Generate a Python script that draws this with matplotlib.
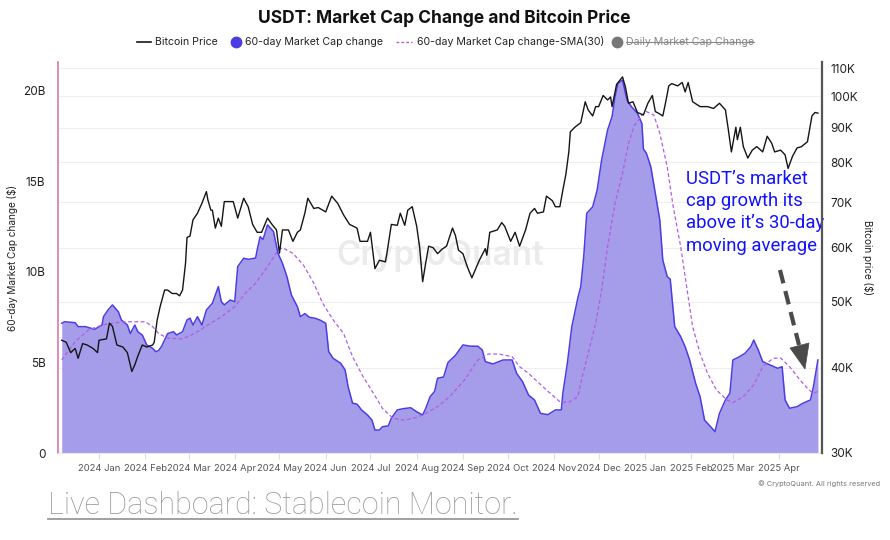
import matplotlib
matplotlib.use("Agg")
import matplotlib.pyplot as plt
import matplotlib.dates as mdates
import matplotlib.transforms as mtrans
from matplotlib.lines import Line2D
from matplotlib.patches import Polygon
from matplotlib.ticker import FixedLocator, NullLocator
import pandas as pd
from datetime import datetime

plt.rcParams['font.family'] = ['Inter', 'DejaVu Sans']

# ---------------- data ----------------
mc_dates = ["2023-12-07", "2023-12-09", "2023-12-16", "2023-12-18", "2023-12-23", "2023-12-29",
            "2024-01-03", "2024-01-04", "2024-01-07", "2024-01-10", "2024-01-14", "2024-01-16",
            "2024-01-20", "2024-01-22", "2024-01-25", "2024-01-27", "2024-01-30", "2024-02-02",
            "2024-02-06", "2024-02-08", "2024-02-10", "2024-02-12", "2024-02-16", "2024-02-20",
            "2024-02-22", "2024-02-26", "2024-02-29", "2024-03-02", "2024-03-04", "2024-03-07",
            "2024-03-10", "2024-03-13", "2024-03-17", "2024-03-21", "2024-03-23", "2024-03-25",
            "2024-03-29", "2024-04-01", "2024-04-03", "2024-04-07", "2024-04-10", "2024-04-15",
            "2024-04-16", "2024-04-18", "2024-04-20", "2024-04-23", "2024-04-27", "2024-04-30",
            "2024-05-03", "2024-05-06", "2024-05-09", "2024-05-13", "2024-05-15", "2024-05-18",
            "2024-05-21", "2024-05-25", "2024-05-28", "2024-06-01", "2024-06-03", "2024-06-06",
            "2024-06-11", "2024-06-14", "2024-06-16", "2024-06-19", "2024-06-22", "2024-06-25",
            "2024-06-29", "2024-07-02", "2024-07-04", "2024-07-07", "2024-07-09", "2024-07-13",
            "2024-07-15", "2024-07-19", "2024-07-23", "2024-07-28", "2024-08-01", "2024-08-05",
            "2024-08-07", "2024-08-10", "2024-08-13", "2024-08-15", "2024-08-19", "2024-08-22",
            "2024-08-27", "2024-09-01", "2024-09-06", "2024-09-11", "2024-09-14", "2024-09-16",
            "2024-09-21", "2024-09-28", "2024-10-04", "2024-10-07", "2024-10-11", "2024-10-15",
            "2024-10-19", "2024-10-23", "2024-10-28", "2024-11-02", "2024-11-06", "2024-11-07",
            "2024-11-10", "2024-11-13", "2024-11-17", "2024-11-19", "2024-11-21", "2024-11-23",
            "2024-11-27", "2024-11-30", "2024-12-03", "2024-12-07", "2024-12-10", "2024-12-12",
            "2024-12-14", "2024-12-17", "2024-12-20", "2024-12-23", "2024-12-27", "2024-12-30",
            "2024-12-31", "2025-01-02", "2025-01-05", "2025-01-08", "2025-01-11", "2025-01-13",
            "2025-01-16", "2025-01-18", "2025-01-21", "2025-01-25", "2025-01-28", "2025-01-31",
            "2025-02-04", "2025-02-07", "2025-02-10", "2025-02-14", "2025-02-17", "2025-02-20",
            "2025-02-24", "2025-02-27", "2025-03-01", "2025-03-05", "2025-03-09", "2025-03-13",
            "2025-03-15", "2025-03-18", "2025-03-21", "2025-03-26", "2025-03-31", "2025-04-03",
            "2025-04-05", "2025-04-08", "2025-04-13", "2025-04-17", "2025-04-22", "2025-04-24",
            "2025-04-27"]
mc_values = [7.17, 7.25, 7.20, 6.98, 6.98, 6.83,
             7.07, 7.53, 7.90, 8.18, 7.80, 7.35,
             7.07, 6.60, 7.07, 6.70, 6.52, 5.97,
             5.78, 5.60, 5.66, 5.90, 6.60, 6.70,
             6.52, 6.70, 7.35, 7.45, 7.07, 7.53,
             7.07, 7.90, 8.27, 9.19, 8.36, 8.18,
             8.45, 8.36, 10.30, 10.76, 10.70, 10.77,
             11.20, 11.95, 11.80, 12.60, 12.23, 11.03,
             10.48, 9.74, 8.73, 8.08, 7.53, 7.70,
             7.50, 7.44, 7.35, 7.17, 5.60, 5.23,
             4.96, 4.59, 3.66, 2.75, 2.70, 2.38,
             2.10, 1.82, 1.27, 1.27, 1.45, 1.50,
             1.92, 2.38, 2.45, 2.50, 2.28, 2.10,
             2.45, 3.11, 3.40, 4.13, 4.20, 5.00,
             5.40, 5.97, 5.90, 5.90, 5.69, 5.05,
             4.92, 5.14, 5.14, 4.40, 3.94, 3.20,
             2.93, 2.19, 2.12, 2.38, 2.38, 3.30,
             4.95, 6.98, 8.55, 9.19, 10.85, 13.24,
             13.60, 14.53, 16.19, 17.85, 18.58, 19.69,
             20.43, 20.60, 19.50, 19.13, 18.77, 18.20,
             16.80, 16.56, 15.80, 14.35, 12.87, 10.66,
             9.74, 9.60, 6.98, 6.43, 5.87, 5.14,
             3.85, 3.11, 1.82, 1.45, 1.18, 2.19,
             2.93, 3.30, 5.14, 5.30, 5.50, 5.87,
             6.24, 5.69, 5.05, 4.86, 4.68, 4.77,
             2.93, 2.47, 2.56, 2.75, 2.93, 3.66,
             5.14]

sma_dates = ["2023-12-07", "2023-12-16", "2023-12-25", "2024-01-03", "2024-01-12", "2024-01-20",
             "2024-02-01", "2024-02-06", "2024-02-10", "2024-02-16", "2024-02-26", "2024-03-05",
             "2024-03-14", "2024-03-23", "2024-04-01", "2024-04-08", "2024-04-15", "2024-04-23",
             "2024-04-30", "2024-05-03", "2024-05-10", "2024-05-17", "2024-05-24", "2024-05-30",
             "2024-06-06", "2024-06-13", "2024-06-19", "2024-06-26", "2024-07-03", "2024-07-09",
             "2024-07-16", "2024-07-23", "2024-07-30", "2024-08-05", "2024-08-15", "2024-08-23",
             "2024-09-02", "2024-09-11", "2024-09-18", "2024-09-25", "2024-10-04", "2024-10-09",
             "2024-10-15", "2024-10-27", "2024-11-05", "2024-11-11", "2024-11-17", "2024-11-20",
             "2024-11-24", "2024-11-29", "2024-12-03", "2024-12-07", "2024-12-12", "2024-12-17",
             "2024-12-21", "2024-12-25", "2024-12-30", "2025-01-02", "2025-01-07", "2025-01-11",
             "2025-01-16", "2025-01-20", "2025-01-25", "2025-01-29", "2025-02-02", "2025-02-07",
             "2025-02-12", "2025-02-18", "2025-02-25", "2025-03-01", "2025-03-08", "2025-03-15",
             "2025-03-21", "2025-03-28", "2025-04-02", "2025-04-08", "2025-04-15", "2025-04-21",
             "2025-04-24", "2025-04-27"]
sma_values = [5.14, 6.15, 6.80, 7.07, 7.20, 7.25,
              7.25, 6.98, 6.60, 6.34, 6.30, 6.60,
              7.07, 7.53, 8.08, 8.82, 9.38, 10.30,
              11.20, 11.34, 11.03, 10.39, 9.38, 8.27,
              7.35, 6.60, 5.32, 4.22, 3.30, 2.47,
              1.92, 1.82, 1.92, 2.10, 2.56, 3.11,
              4.03, 5.14, 5.47, 5.47, 5.32, 4.77,
              4.40, 3.48, 2.83, 2.80, 3.11, 4.22,
              5.50, 7.17, 9.00, 11.40, 13.80, 15.45,
              17.10, 18.10, 18.67, 18.86, 18.67, 17.66,
              15.80, 13.60, 11.40, 9.19, 6.98, 5.50,
              4.40, 3.48, 2.93, 2.78, 3.11, 3.76,
              4.77, 5.23, 5.25, 4.77, 4.03, 3.48,
              3.30, 3.40]

btc_dates = ["2023-12-07", "2023-12-10", "2023-12-13", "2023-12-16", "2023-12-18", "2023-12-21",
             "2023-12-24", "2023-12-28", "2023-12-31", "2024-01-01", "2024-01-06", "2024-01-08",
             "2024-01-10", "2024-01-13", "2024-01-17", "2024-01-20", "2024-01-23", "2024-01-25",
             "2024-01-27", "2024-01-30", "2024-02-02", "2024-02-06", "2024-02-07", "2024-02-09",
             "2024-02-11", "2024-02-14", "2024-02-16", "2024-02-19", "2024-02-22", "2024-02-24",
             "2024-02-26", "2024-02-28", "2024-02-29", "2024-03-02", "2024-03-04", "2024-03-07",
             "2024-03-10", "2024-03-13", "2024-03-14", "2024-03-16", "2024-03-17", "2024-03-19",
             "2024-03-21", "2024-03-23", "2024-03-25", "2024-03-29", "2024-03-31", "2024-04-03",
             "2024-04-07", "2024-04-10", "2024-04-13", "2024-04-16", "2024-04-19", "2024-04-23",
             "2024-04-26", "2024-04-29", "2024-05-01", "2024-05-03", "2024-05-07", "2024-05-10",
             "2024-05-13", "2024-05-15", "2024-05-18", "2024-05-20", "2024-05-24", "2024-05-27",
             "2024-06-01", "2024-06-05", "2024-06-09", "2024-06-13", "2024-06-17", "2024-06-22",
             "2024-06-24", "2024-06-29", "2024-07-01", "2024-07-04", "2024-07-07", "2024-07-11",
             "2024-07-12", "2024-07-15", "2024-07-19", "2024-07-21", "2024-07-24", "2024-07-26",
             "2024-07-29", "2024-08-01", "2024-08-03", "2024-08-05", "2024-08-07", "2024-08-09",
             "2024-08-12", "2024-08-15", "2024-08-18", "2024-08-21", "2024-08-25", "2024-08-27",
             "2024-08-29", "2024-09-01", "2024-09-04", "2024-09-07", "2024-09-09", "2024-09-12",
             "2024-09-16", "2024-09-17", "2024-09-19", "2024-09-24", "2024-09-27", "2024-09-29",
             "2024-10-03", "2024-10-06", "2024-10-09", "2024-10-13", "2024-10-16", "2024-10-19",
             "2024-10-21", "2024-10-25", "2024-10-27", "2024-10-31", "2024-11-02", "2024-11-05",
             "2024-11-07", "2024-11-09", "2024-11-11", "2024-11-12", "2024-11-15", "2024-11-19",
             "2024-11-22", "2024-11-24", "2024-11-27", "2024-11-29", "2024-12-01", "2024-12-04",
             "2024-12-07", "2024-12-09", "2024-12-10", "2024-12-13", "2024-12-17", "2024-12-19",
             "2024-12-21", "2024-12-24", "2024-12-27", "2024-12-31", "2025-01-03", "2025-01-06",
             "2025-01-08", "2025-01-10", "2025-01-13", "2025-01-15", "2025-01-17", "2025-01-19",
             "2025-01-23", "2025-01-26", "2025-01-28", "2025-01-30", "2025-02-02", "2025-02-07",
             "2025-02-12", "2025-02-16", "2025-02-20", "2025-02-24", "2025-02-26", "2025-02-28",
             "2025-03-03", "2025-03-04", "2025-03-06", "2025-03-08", "2025-03-11", "2025-03-14",
             "2025-03-17", "2025-03-21", "2025-03-24", "2025-03-27", "2025-03-29", "2025-04-02",
             "2025-04-05", "2025-04-07", "2025-04-10", "2025-04-13", "2025-04-16", "2025-04-20",
             "2025-04-22", "2025-04-23", "2025-04-25", "2025-04-27"]
btc_values = [43.9, 43.6, 42.1, 42.7, 41.3, 43.4,
              43.2, 42.7, 42.1, 43.9, 44.1, 46.5,
              46.0, 43.2, 42.9, 42.1, 39.5, 40.4,
              41.6, 43.2, 42.9, 43.2, 43.6, 47.0,
              49.2, 52.0, 52.0, 51.4, 51.4, 51.0,
              52.0, 56.9, 62.1, 62.4, 65.9, 67.4,
              69.7, 72.5, 70.5, 68.1, 68.1, 64.1,
              66.3, 64.5, 70.1, 70.1, 70.1, 66.3,
              70.9, 68.9, 64.9, 63.2, 63.2, 66.3,
              64.9, 63.7, 58.9, 63.7, 63.7, 61.3,
              63.2, 63.7, 67.4, 70.9, 68.5, 68.7,
              67.7, 71.4, 69.7, 67.0, 64.9, 64.1,
              61.3, 61.3, 63.2, 55.9, 57.5, 57.2,
              58.8, 64.9, 64.7, 67.4, 64.7, 68.1,
              68.9, 64.5, 60.0, 53.5, 56.9, 60.3,
              60.0, 58.8, 59.7, 60.3, 64.1, 62.5,
              59.5, 58.8, 56.2, 54.2, 55.5, 57.5,
              59.8, 58.5, 63.2, 63.7, 65.3, 64.5,
              61.3, 63.2, 60.3, 63.7, 67.4, 68.5,
              67.4, 67.7, 71.4, 70.3, 68.9, 68.9,
              72.9, 76.8, 82.9, 88.7, 90.1, 91.5,
              98.2, 95.5, 93.6, 96.6, 96.6, 100.3,
              98.8, 99.8, 96.6, 104.1, 106.8, 103.1,
              97.7, 98.2, 94.7, 93.9, 97.7, 100.3,
              95.0, 94.5, 93.6, 98.2, 103.6, 104.4,
              103.6, 104.8, 101.5, 104.8, 98.2, 96.6,
              96.6, 96.0, 97.7, 95.5, 89.2, 82.9,
              90.1, 86.4, 90.1, 84.4, 81.2, 83.4,
              84.4, 82.9, 87.4, 85.4, 82.9, 83.4,
              82.1, 78.4, 81.7, 84.0, 84.4, 85.8,
              91.0, 93.6, 94.7, 94.5]

left_ticks = [0, 5, 10, 15, 20]
left_tick_labels = ["0", "5B", "10B", "15B", "20B"]
right_ticks = [30, 40, 50, 60, 70, 80, 90, 100, 110]
right_tick_labels = ["30K", "40K", "50K", "60K", "70K", "80K", "90K", "100K", "110K"]

title = "USDT: Market Cap Change and Bitcoin Price"
legend_labels = ["Bitcoin Price", "60-day Market Cap change",
                 "60-day Market Cap change-SMA(30)", "Daily Market Cap Change"]
annotation = "USDT\u2019s market\ncap growth its\nabove it\u2019s 30-day\nmoving average"

# ---------------- styling ----------------
C_FILL = "#a59cea"
C_LINE = "#4b3de3"
C_SMA = "#b35ce4"
C_BTC = "#151515"

W, H = 890, 540
fig = plt.figure(figsize=(W / 100, H / 100), dpi=100)
fig.patch.set_facecolor("white")

def fx(px):
    return px / W

def fy(py):
    return 1 - py / H

AX_L, AX_R, AX_T, AX_B = 58, 822, 62, 453
ax = fig.add_axes([fx(AX_L), fy(AX_B), fx(AX_R) - fx(AX_L), fy(AX_T) - fy(AX_B)])
ax2 = ax.twinx()

def afx(px):
    return (px - AX_L) / (AX_R - AX_L)

def afy(py):
    return (AX_B - py) / (AX_B - AX_T)

mc_d = pd.to_datetime(mc_dates)
sma_d = pd.to_datetime(sma_dates)
btc_d = pd.to_datetime(btc_dates)

ax.fill_between(mc_d, mc_values, 0, color=C_FILL, lw=0, zorder=2)
ax.plot(mc_d, mc_values, color=C_LINE, lw=1.1, zorder=3)
ax.plot(sma_d, sma_values, color=C_SMA, lw=0.9, ls=(0, (3, 2)), zorder=4)
ax2.plot(btc_d, btc_values, color=C_BTC, lw=1.0, zorder=5)

# limits
ax.set_xlim(datetime(2023, 12, 4, 12), datetime(2025, 4, 29, 18))
ax.set_ylim(0, 21.6)
ax2.set_yscale("log")
ax2.set_ylim(30, 112.3)

# gridlines following the right axis
blend = mtrans.blended_transform_factory(ax.transAxes, ax2.transData)
for v in right_ticks[1:]:
    ax.add_line(Line2D([0, 1], [v, v], transform=blend, color="#efefef", lw=0.8, zorder=0))

# watermark
ax.text(0.5, 0.505, "CryptoQuant", transform=ax.transAxes, ha="center", va="center",
        fontsize=24, color="#ebebeb", fontweight="semibold", zorder=1)

# ticks
ax.yaxis.set_major_locator(FixedLocator(left_ticks))
ax.set_yticklabels(left_tick_labels)
ax.tick_params(axis="y", length=0, pad=9, labelsize=8.5, labelcolor="#222")
ax2.yaxis.set_major_locator(FixedLocator(right_ticks))
ax2.yaxis.set_minor_locator(NullLocator())
ax2.set_yticklabels(right_tick_labels)
ax2.tick_params(axis="y", which="both", length=0, pad=6, labelsize=8.5, labelcolor="#222")

ax.xaxis.set_major_locator(mdates.MonthLocator())
ax.xaxis.set_major_formatter(mdates.DateFormatter("%Y %b"))
ax.tick_params(axis="x", length=4, color="#dddddd", pad=4, labelsize=6.8, labelcolor="#555")

for s in ["top", "right"]:
    ax.spines[s].set_visible(False)
ax.spines["left"].set_color("#d77aa6")
ax.spines["left"].set_linewidth(1.2)
ax.spines["bottom"].set_color("#e8e8e8")
for s in ["top", "left", "bottom"]:
    ax2.spines[s].set_visible(False)
ax2.spines["right"].set_color("#555555")
ax2.spines["right"].set_linewidth(1.6)

ax.set_ylabel("60-day Market Cap change ($)", fontsize=7.2, color="#222")
ax.yaxis.set_label_coords(-0.052, 0.5)
ax2.set_ylabel("Bitcoin price ($)", fontsize=7.2, color="#222", rotation=270, va="center")
ax2.yaxis.set_label_coords(1.06, 0.5)

# title
fig.text(0.4994, fy(18), title, ha="center", va="center", fontsize=12.5,
         fontweight="bold", color="#111")

# manual legend
ly = fy(42)
fs_leg = 7.6
fig.add_artist(Line2D([fx(137), fx(151)], [ly, ly], color=C_BTC, lw=1.2))
fig.text(fx(155), ly, legend_labels[0], ha="left", va="center", fontsize=fs_leg, color="#222")
fig.add_artist(Line2D([fx(236)], [ly], marker="o", markersize=7.5, color=C_LINE, lw=0))
fig.text(fx(245), ly, legend_labels[1], ha="left", va="center", fontsize=fs_leg, color="#222")
fig.add_artist(Line2D([fx(396), fx(412)], [ly, ly], color=C_SMA, lw=1.0, ls=(0, (2, 1.5))))
fig.text(fx(417), ly, legend_labels[2], ha="left", va="center", fontsize=fs_leg, color="#222")
fig.add_artist(Line2D([fx(617)], [ly], marker="o", markersize=7.5, color="#777777", lw=0))
t_daily = fig.text(fx(626), ly, legend_labels[3], ha="left", va="center", fontsize=fs_leg,
                   color="#888888")

# annotation text
ax.text(afx(686), afy(170), annotation, transform=ax.transAxes, ha="left", va="top",
        fontsize=13.3, color="#1212ff", family=["Roboto", "DejaVu Sans"], fontweight="normal",
        linespacing=1.3, zorder=6)
# dashed arrow: shaft + filled head
ax.plot([afx(780), afx(799)], [afy(270), afy(345)], transform=ax.transAxes,
        color="#4a4a4a", lw=3, ls=(0, (3.3, 1.9)), solid_capstyle="butt",
        dash_capstyle="butt", zorder=6, clip_on=False)
ax.add_patch(Polygon([(afx(790), afy(348)), (afx(809), afy(343)), (afx(805), afy(369))],
                     closed=True, transform=ax.transAxes, facecolor="#4a4a4a",
                     edgecolor="#4a4a4a", lw=0.5, zorder=6, clip_on=False))

# footer
fig.text(fx(880), fy(484), "\u00a9 CryptoQuant. All rights reserved", ha="right", va="center",
         fontsize=5.3, color="#777")
t_live = fig.text(fx(48), fy(514), "Live Dashboard: Stablecoin Monitor.", ha="left",
                  va="baseline", fontsize=22, color="#999999",
                  family=["Roboto", "DejaVu Sans"], fontweight="light")

# strike-through and underline based on measured text extents
fig.canvas.draw()
r = fig.canvas.get_renderer()
bb = t_daily.get_window_extent(r)
ymid = (bb.y0 + bb.y1) / 2 / H
fig.add_artist(Line2D([bb.x0 / W, bb.x1 / W], [ymid, ymid], color="#888888", lw=0.8))
bb2 = t_live.get_window_extent(r)
uy = fy(518.5)
fig.add_artist(Line2D([bb2.x0 / W, bb2.x1 / W], [uy, uy], color="#999999", lw=1.3))

fig.savefig("out.png", dpi=100, facecolor="white")
